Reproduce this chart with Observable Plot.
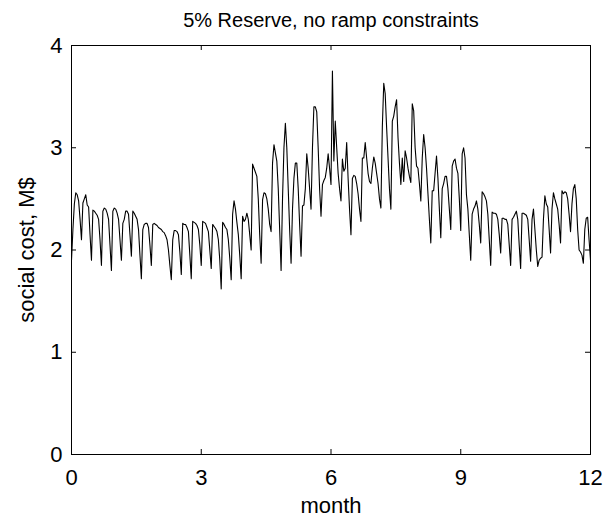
<!DOCTYPE html>
<html>
<head>
<meta charset="utf-8">
<script src="https://cdn.jsdelivr.net/npm/d3@7"></script>
<script src="https://cdn.jsdelivr.net/npm/@observablehq/plot@0.6"></script>
<style>
  html, body { margin: 0; padding: 0; background: #fff; }
</style>
</head>
<body>
<div id="chart"></div>
<script>
// ---- data (daily social cost, M$) ----
const titleText = "5% Reserve, no ramp constraints";
const xLabel = "month";
const yLabel = "social cost, M$";
const xTicks = [0, 3, 6, 9, 12];
const yTicks = [0, 1, 2, 3, 4];

const firstDay = 1.90;
const weeks = [
  [2.20, 2.45, 2.56, 2.54, 2.48, 2.30, 2.10],
  [2.46, 2.50, 2.54, 2.44, 2.42, 2.15, 1.90],
  [2.39, 2.38, 2.36, 2.34, 2.30, 2.10, 1.85],
  [2.38, 2.41, 2.40, 2.36, 2.30, 2.05, 1.80],
  [2.38, 2.41, 2.40, 2.36, 2.30, 2.10, 1.90],
  [2.26, 2.30, 2.38, 2.38, 2.35, 2.15, 1.94],
  [2.38, 2.36, 2.33, 2.30, 2.20, 1.95, 1.72],
  [2.20, 2.25, 2.26, 2.26, 2.22, 2.05, 1.85],
  [2.25, 2.26, 2.25, 2.24, 2.22, 2.21, 2.20],
  [2.18, 2.17, 2.14, 2.10, 2.00, 1.85, 1.71],
  [2.10, 2.19, 2.19, 2.18, 2.15, 1.98, 1.76],
  [2.26, 2.25, 2.25, 2.22, 2.18, 1.95, 1.72],
  [2.28, 2.27, 2.26, 2.24, 2.20, 2.05, 1.85],
  [2.28, 2.27, 2.26, 2.22, 2.18, 2.00, 1.82],
  [2.25, 2.23, 2.21, 2.18, 2.10, 1.90, 1.62],
  [2.27, 2.25, 2.22, 2.20, 2.10, 1.92, 1.71],
  [2.35, 2.48, 2.40, 2.27, 2.15, 1.95, 1.72],
  [2.33, 2.28, 2.30, 2.36, 2.30, 2.15, 2.00],
  [2.84, 2.80, 2.76, 2.72, 2.50, 2.15, 1.87],
  [2.49, 2.56, 2.55, 2.50, 2.40, 2.25, 2.18],
  [2.85, 3.03, 2.95, 2.87, 2.60, 2.20, 1.80],
  [2.50, 3.00, 3.24, 3.00, 2.60, 2.20, 1.87],
  [2.40, 2.70, 2.85, 2.85, 2.60, 2.25, 1.94],
  [2.43, 2.44, 2.60, 2.94, 2.80, 2.60, 2.40],
  [3.00, 3.40, 3.40, 3.35, 3.00, 2.60, 2.33],
  [2.64, 2.68, 2.71, 2.80, 2.94, 2.80, 2.64],
  [3.75, 2.87, 3.26, 3.00, 2.75, 2.60, 2.48],
  [2.89, 2.77, 2.80, 3.05, 2.70, 2.40, 2.15],
  [2.70, 2.73, 2.72, 2.65, 2.55, 2.40, 2.28],
  [2.90, 2.90, 3.05, 2.90, 2.75, 2.67, 2.65],
  [2.80, 2.91, 2.85, 2.75, 2.65, 2.50, 2.41],
  [3.20, 3.63, 3.53, 3.20, 2.90, 2.60, 2.40],
  [3.26, 3.31, 3.40, 3.47, 3.10, 2.85, 2.64],
  [2.90, 2.67, 2.97, 2.90, 2.80, 2.72, 2.66],
  [3.43, 3.36, 3.00, 2.82, 2.80, 2.65, 2.48],
  [2.90, 3.13, 3.00, 2.80, 2.55, 2.30, 2.07],
  [2.58, 2.58, 2.75, 2.92, 2.70, 2.40, 2.12],
  [2.60, 2.65, 2.72, 2.72, 2.60, 2.40, 2.20],
  [2.82, 2.87, 2.89, 2.80, 2.75, 2.50, 2.19],
  [2.94, 3.00, 2.90, 2.54, 2.40, 2.15, 1.90],
  [2.35, 2.40, 2.43, 2.48, 2.40, 2.25, 2.07],
  [2.57, 2.55, 2.52, 2.48, 2.35, 2.10, 1.85],
  [2.37, 2.36, 2.36, 2.35, 2.30, 2.15, 1.97],
  [2.31, 2.31, 2.30, 2.30, 2.25, 2.05, 1.85],
  [2.30, 2.32, 2.35, 2.38, 2.30, 2.05, 1.82],
  [2.36, 2.36, 2.35, 2.34, 2.30, 2.10, 1.89],
  [2.30, 2.40, 2.20, 2.00, 1.84, 1.90, 1.92],
  [1.93, 2.30, 2.53, 2.45, 2.42, 2.20, 1.97],
  [2.40, 2.56, 2.50, 2.45, 2.40, 2.25, 2.07],
  [2.58, 2.55, 2.57, 2.56, 2.50, 2.35, 2.18],
  [2.45, 2.60, 2.64, 2.50, 2.20, 2.00, 1.98],
  [1.95, 1.87, 2.20, 2.31, 2.32, 2.10, 1.90]
];
const cost = [firstDay, ...weeks.flat()];
const lastDay = cost.length - 1;

// ---- layout ----
const W = 610, H = 517;
const mL = 71, mR = 20, mT = 45, mB = 63;
const plotW = W - mL - mR, plotH = H - mT - mB;
const tickLen = 5;
const labelSize = 22;

const chart = Plot.plot({
  width: W,
  height: H,
  marginLeft: mL,
  marginRight: mR,
  marginTop: mT,
  marginBottom: mB,
  style: {fontFamily: "'Liberation Sans', Arial, Helvetica, sans-serif", fontSize: labelSize + "px", color: "black", background: "white"},
  x: {domain: [0, 12], ticks: xTicks, tickSize: 0, tickPadding: 15, tickFormat: "d", label: null},
  y: {domain: [0, 4], ticks: yTicks, tickSize: 0, tickPadding: 9, tickFormat: "d", label: null},
  marks: [
    Plot.line(cost, {x: (d, i) => i * 12 / lastDay, y: d => d, stroke: "black", strokeWidth: 1.1}),
    Plot.frame({stroke: "black", strokeWidth: 1}),
    Plot.tickX(xTicks, {x: d => d, insetTop: plotH - tickLen, stroke: "black"}),
    Plot.tickX(xTicks, {x: d => d, insetBottom: plotH - tickLen, stroke: "black"}),
    Plot.tickY(yTicks, {y: d => d, insetRight: plotW - tickLen, stroke: "black"}),
    Plot.tickY(yTicks, {y: d => d, insetLeft: plotW - tickLen, stroke: "black"}),
    Plot.text([titleText], {frameAnchor: "top", dy: -25, lineAnchor: "middle", textAnchor: "middle", fontSize: 20, fill: "black"}),
    Plot.text([xLabel], {frameAnchor: "bottom", dy: 51, lineAnchor: "middle", textAnchor: "middle", fontSize: labelSize, fill: "black"}),
    Plot.text([yLabel], {frameAnchor: "left", dx: -45, rotate: -90, lineAnchor: "middle", textAnchor: "middle", fontSize: labelSize, fill: "black"})
  ]
});
document.getElementById("chart").append(chart);
</script>
</body>
</html>
